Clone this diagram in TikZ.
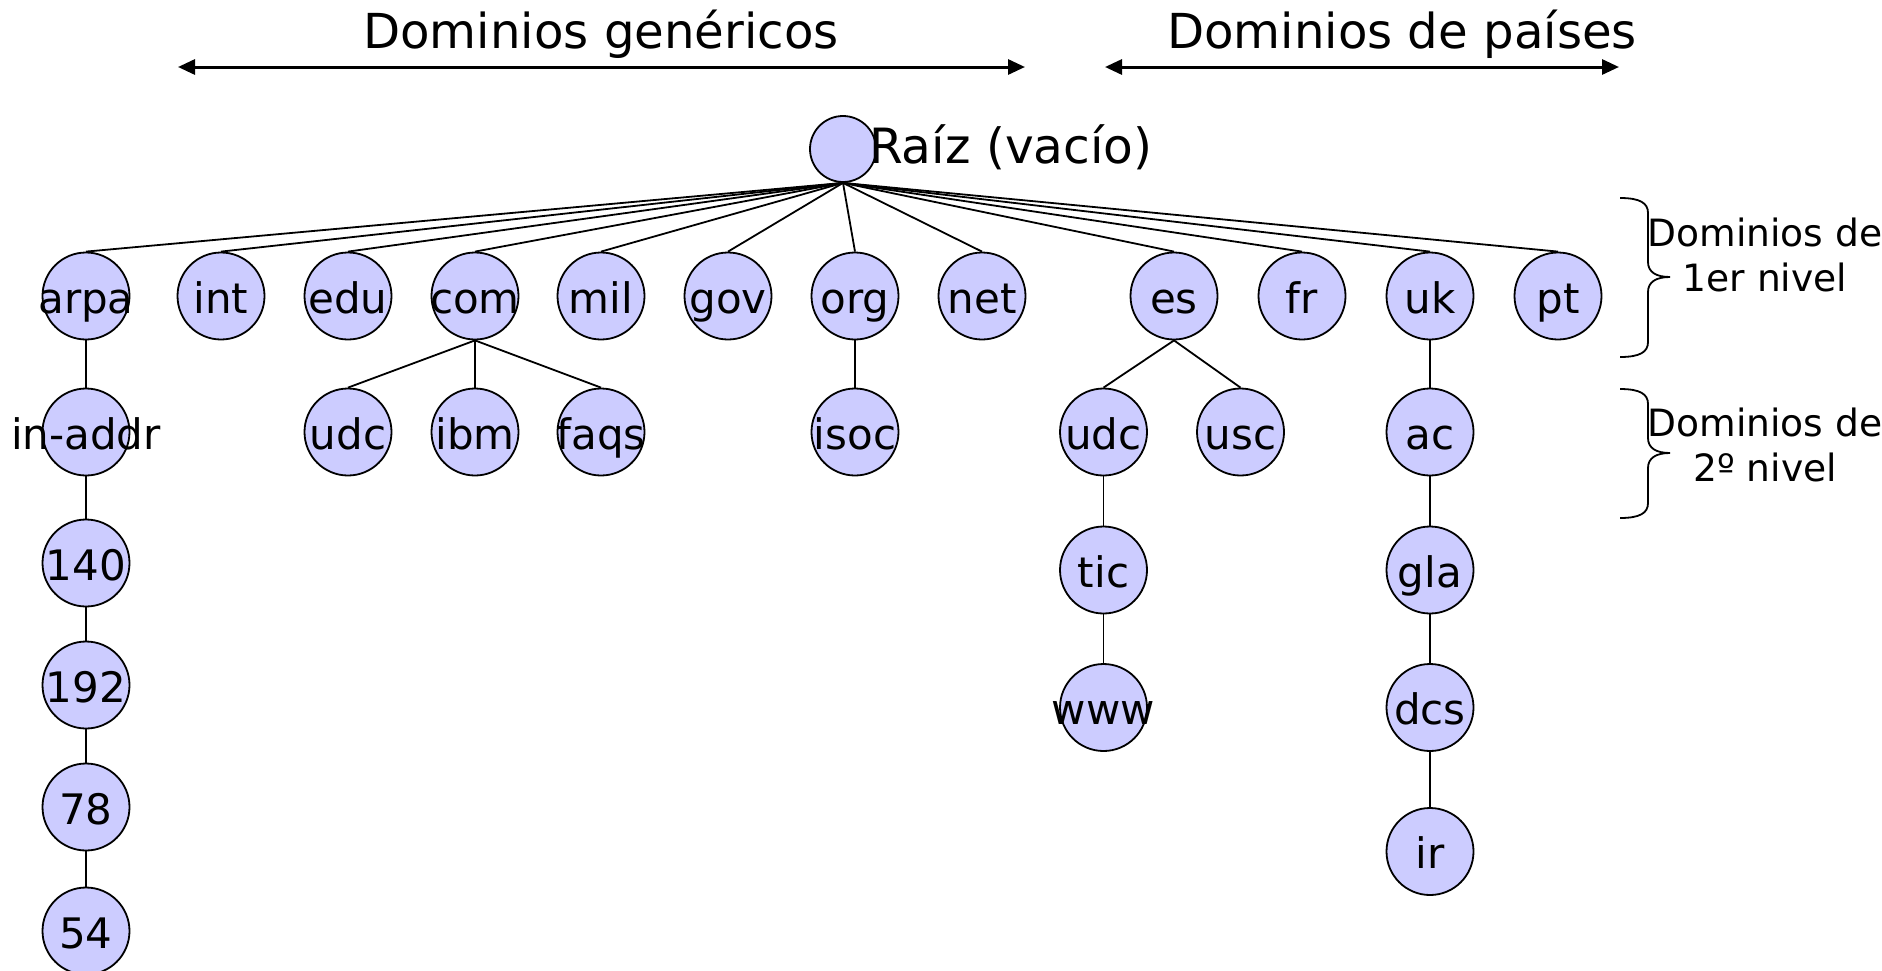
\documentclass[tikz,border=0pt]{standalone}
\usepackage{fontspec}
\setmainfont{DejaVu Sans}
\usetikzlibrary{arrows.meta}
\definecolor{lav}{HTML}{CCCCFF}
\newcommand\zbox[1]{\makebox[0pt]{#1}}
\begin{document}
\begin{tikzpicture}[x=1pt,y=-1pt,
  dn/.style={circle,draw=black,fill=lav,line width=1.8pt,minimum size=87pt,inner sep=0pt,
             text height=34pt,text depth=0pt,font=\fontsize{42}{50}\selectfont},
  rootn/.style={circle,draw=black,fill=lav,line width=1.8pt,minimum size=66pt,inner sep=0pt},
  ln/.style={line width=1.8pt},
  big/.style={font=\fontsize{48.2}{57}\selectfont,inner sep=0pt},
  side/.style={font=\fontsize{37.6}{45}\selectfont,align=center,inner sep=0pt},
  brc/.style={line width=1.8pt},
  dbl/.style={line width=3pt,{Triangle[length=17pt,width=15pt]}-{Triangle[length=17pt,width=15pt]}}
]
\useasboundingbox (0,0) rectangle (1882,970);

% titles and arrows
\node[big,anchor=base] (tgen) at (601,48) {Dominios genéricos};
\node[big,anchor=base] (tpai) at (1402,48) {Dominios de países};
\coordinate (g1) at (178,67);
\coordinate (g2) at (1025,67);
\coordinate (p1) at (1105,67);
\coordinate (p2) at (1619,67);
\draw[dbl] (g1) -- (g2);
\draw[dbl] (p1) -- (p2);

% root
\node[rootn] (root) at (843,149) {};
\node[big,anchor=base west,font=\fontsize{48.6}{57}\selectfont] (rootlbl) at (869,163) {Raíz (vacío)};

% level 1
\node[dn] (arpa) at (86,296) {\zbox{arpa}};
\node[dn] (int)  at (221,296) {\zbox{int}};
\node[dn] (edu)  at (348,296) {\zbox{edu}};
\node[dn] (com)  at (475,296) {\zbox{com}};
\node[dn] (mil)  at (601,296) {\zbox{mil}};
\node[dn] (gov)  at (728,296) {\zbox{gov}};
\node[dn] (org)  at (855,296) {\zbox{org}};
\node[dn] (net)  at (982,296) {\zbox{net}};
\node[dn] (es)   at (1174,296) {\zbox{es}};
\node[dn] (fr)   at (1302,296) {\zbox{fr}};
\node[dn] (uk)   at (1430,296) {\zbox{uk}};
\node[dn] (pt)   at (1558,296) {\zbox{pt}};

% level 2 and below
\node[dn] (inaddr) at (86,432) {\zbox{in-addr}};
\node[dn] (n140)   at (86,563) {\zbox{140}};
\node[dn] (n192)   at (86,685) {\zbox{192}};
\node[dn] (n78)    at (86,807) {\zbox{78}};
\node[dn] (n54)    at (86,931) {\zbox{54}};

\node[dn] (udcc) at (348,432) {\zbox{udc}};
\node[dn] (ibm)  at (475,432) {\zbox{ibm}};
\node[dn] (faqs) at (601,432) {\zbox{faqs}};

\node[dn] (isoc) at (855,432) {\zbox{isoc}};

\node[dn] (udce) at (1103.5,432) {\zbox{udc}};
\node[dn] (usc)  at (1240.5,432) {\zbox{usc}};
\node[dn] (tic)  at (1103.5,570) {\zbox{tic}};
\node[dn] (www)  at (1103.5,707.5) {\zbox{www}};

\node[dn] (ac)  at (1430,432) {\zbox{ac}};
\node[dn] (gla) at (1430,570) {\zbox{gla}};
\node[dn] (dcs) at (1430,707.5) {\zbox{dcs}};
\node[dn] (ir)  at (1430,851.5) {\zbox{ir}};

% edges from root
\foreach \n in {arpa,int,edu,com,mil,gov,org,net,es,fr,uk,pt}
  \draw[ln] (root.south) -- (\n.north);

% subtree edges
\draw[ln] (arpa.south) -- (inaddr.north);
\draw[ln] (inaddr.south) -- (n140.north);
\draw[ln] (n140.south) -- (n192.north);
\draw[ln] (n192.south) -- (n78.north);
\draw[ln] (n78.south) -- (n54.north);
\draw[ln] (com.south) -- (udcc.north);
\draw[ln] (com.south) -- (ibm.north);
\draw[ln] (com.south) -- (faqs.north);
\draw[ln] (org.south) -- (isoc.north);
\draw[ln] (es.south) -- (udce.north);
\draw[ln] (es.south) -- (usc.north);
\draw[ln] (udce.south) -- (tic.north);
\draw[ln] (tic.south) -- (www.north);
\draw[ln] (uk.south) -- (ac.north);
\draw[ln] (ac.south) -- (gla.north);
\draw[ln] (gla.south) -- (dcs.north);
\draw[ln] (dcs.south) -- (ir.north);

% braces
\draw[brc] (1620,198) .. controls (1640,198) and (1648,203) .. (1648,213)
  -- (1648,262) .. controls (1648,272) and (1656,277) .. (1670,277)
  .. controls (1656,277) and (1648,282) .. (1648,292)
  -- (1648,342) .. controls (1648,352) and (1640,357) .. (1620,357);
\draw[brc] (1620,389) .. controls (1640,389) and (1648,394) .. (1648,404)
  -- (1648,438) .. controls (1648,448) and (1656,453) .. (1670,453)
  .. controls (1656,453) and (1648,458) .. (1648,468)
  -- (1648,503) .. controls (1648,513) and (1640,518) .. (1620,518);
\node[side] (lvl1) at (1765,255.3) {Dominios de\\1er nivel};
\node[side] (lvl2) at (1765,445.3) {Dominios de\\2º nivel};
\end{tikzpicture}
\end{document}
